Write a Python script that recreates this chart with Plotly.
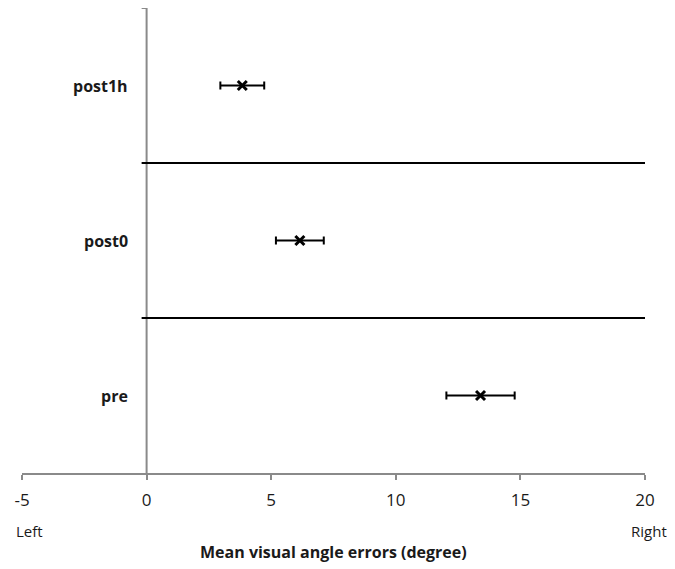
import plotly.graph_objects as go

categories = ["pre", "post0", "post1h"]
cat_pos = [0, 1, 2]
means = [13.4, 6.15, 3.84]
errors = [1.37, 0.96, 0.88]
x_ticks = [-5, 0, 5, 10, 15, 20]
separators = [0.5, 1.5]

FONT = "'Open Sans', Lato, sans-serif"
AXIS_GRAY = "#8a8a8a"
TXT = "#1a1a1a"

fig = go.Figure()
fig.add_trace(go.Scatter(
    x=means, y=cat_pos, mode="markers",
    marker=dict(symbol="x-thin", size=9, color="black",
                line=dict(width=3, color="black")),
    error_x=dict(type="data", array=errors, symmetric=True,
                 color="black", thickness=2, width=4),
    showlegend=False, hoverinfo="skip",
))

shapes = []
shapes.append(dict(type="line", xref="x", yref="y", x0=0, x1=0, y0=-0.5, y1=2.5,
                   line=dict(color=AXIS_GRAY, width=2)))
shapes.append(dict(type="line", xref="x", yref="y", x0=-0.2, x1=0, y0=2.5, y1=2.5,
                   line=dict(color=AXIS_GRAY, width=2)))
for s in separators:
    shapes.append(dict(type="line", xref="x", yref="y", x0=-0.2, x1=20, y0=s, y1=s,
                       line=dict(color="black", width=2)))

annotations = []
for c, p in zip(categories, cat_pos):
    annotations.append(dict(x=0, y=p, xref="x", yref="y", text=c, showarrow=False,
                            xanchor="right", yanchor="middle", xshift=-17,
                            font=dict(family=FONT, size=16, color=TXT, weight="bold")))
annotations.append(dict(x=-5, y=0, xref="x", yref="paper", text="Left", showarrow=False,
                        xanchor="left", yanchor="middle", xshift=-8, yshift=-58,
                        font=dict(family=FONT, size=15, color=TXT)))
annotations.append(dict(x=20, y=0, xref="x", yref="paper", text="Right", showarrow=False,
                        xanchor="center", yanchor="middle", xshift=4, yshift=-58,
                        font=dict(family=FONT, size=15, color=TXT)))
annotations.append(dict(x=0.5, y=0, xref="paper", yref="paper",
                        text="Mean visual angle errors (degree)", showarrow=False,
                        xanchor="center", yanchor="middle", yshift=-79,
                        font=dict(family=FONT, size=16, color=TXT, weight="bold")))

fig.update_layout(
    width=667, height=561,
    margin=dict(l=14, r=30, t=0, b=96),
    paper_bgcolor="white", plot_bgcolor="white",
    font=dict(family=FONT, size=16, color=TXT),
    xaxis=dict(range=[-5, 20], tickvals=x_ticks, ticktext=[str(v) for v in x_ticks],
               showgrid=False, zeroline=False, showline=True, linecolor=AXIS_GRAY,
               linewidth=2, ticks="outside", ticklen=5, tickwidth=2, tickcolor=AXIS_GRAY,
               ticklabelstandoff=6, tickfont=dict(family=FONT, size=17, color=TXT)),
    yaxis=dict(range=[-0.5, 2.5], showgrid=False, zeroline=False, showline=False,
               showticklabels=False, ticks=""),
    shapes=shapes, annotations=annotations,
)

fig.write_html("out.html")
